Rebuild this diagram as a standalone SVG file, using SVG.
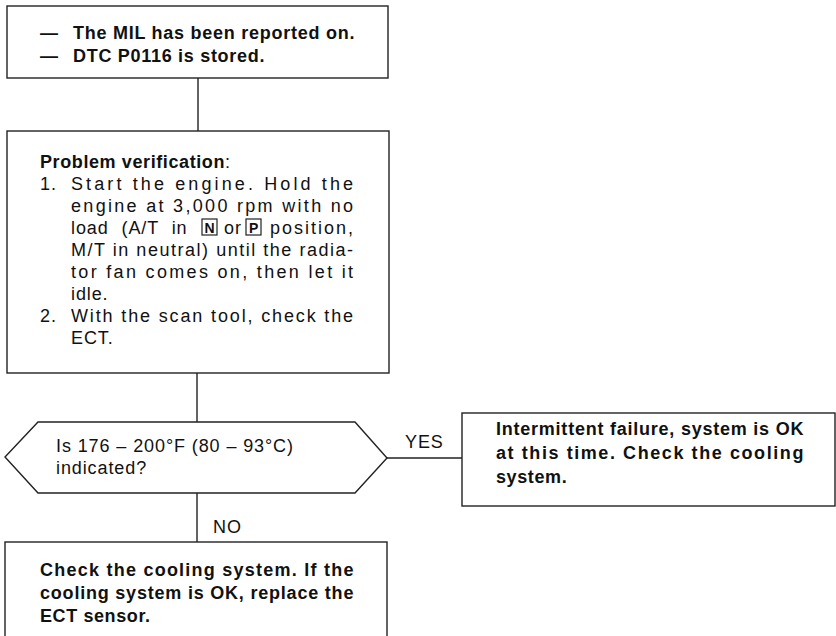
<svg xmlns="http://www.w3.org/2000/svg" width="836" height="636" viewBox="0 0 836 636">
<style>
.box{fill:#fff;stroke:#222;stroke-width:1.4}
.con{stroke:#222;stroke-width:1.4;fill:none}
text{font-family:"Liberation Sans",Arial,Helvetica,sans-serif;font-size:18px;fill:#111;letter-spacing:0.9px}
.b{font-weight:bold;letter-spacing:0.6px}
.k{fill:none;stroke:#222;stroke-width:1.2}
.kl{font-weight:bold;font-size:14px;letter-spacing:0}
</style>
<rect width="836" height="636" fill="#fff"/>
<g id="connectors">
<line class="con" x1="198" y1="78" x2="198" y2="131"/>
<line class="con" x1="197" y1="373" x2="197" y2="422"/>
<line class="con" x1="387" y1="458" x2="462" y2="458"/>
<line class="con" x1="197" y1="493" x2="197" y2="542"/>
<text x="405" y="448">YES</text>
<text x="213" y="533">NO</text>
</g>
<g id="start">
<rect class="box" x="7" y="6" width="381" height="72"/>
<text class="b" x="40" y="39">—</text>
<text class="b" x="73" y="39" textLength="282" lengthAdjust="spacing">The MIL has been reported on.</text>
<text class="b" x="40" y="62">—</text>
<text class="b" x="73" y="62" textLength="192" lengthAdjust="spacing">DTC P0116 is stored.</text>
</g>
<g id="verify">
<rect class="box" x="7" y="131" width="382" height="242"/>
<text x="40" y="168"><tspan class="b">Problem verification</tspan>:</text>
<text x="40" y="190">1.</text>
<text x="71" y="190" textLength="283" lengthAdjust="spacing">Start the engine. Hold the</text>
<text x="71" y="212" textLength="283" lengthAdjust="spacing">engine at 3,000 rpm with no</text>
<text x="71" y="234" style="word-spacing:7px">load (A/T in</text>
<rect class="k" x="202" y="219" width="15" height="16"/>
<text class="kl" x="204.5" y="233">N</text>
<text x="224" y="234">or</text>
<rect class="k" x="246" y="219" width="15" height="16"/>
<text class="kl" x="249" y="233">P</text>
<text x="270" y="234" textLength="84" lengthAdjust="spacing">position,</text>
<text x="71" y="256" textLength="283" lengthAdjust="spacing">M/T in neutral) until the radia-</text>
<text x="71" y="278" textLength="283" lengthAdjust="spacing">tor fan comes on, then let it</text>
<text x="71" y="300">idle.</text>
<text x="40" y="322">2.</text>
<text x="71" y="322" textLength="283" lengthAdjust="spacing">With the scan tool, check the</text>
<text x="71" y="344">ECT.</text>
</g>
<g id="decision">
<polygon class="box" points="38,422 355,422 387,458 355,493 38,493 5,457"/>
<text x="56" y="452">Is 176 – 200°F (80 – 93°C)</text>
<text x="56" y="474">indicated?</text>
</g>
<g id="yes-result">
<rect class="box" x="462" y="413" width="373" height="93"/>
<text class="b" x="496" y="435" textLength="308" lengthAdjust="spacing">Intermittent failure, system is OK</text>
<text class="b" x="496" y="459" textLength="308" lengthAdjust="spacing">at this time. Check the cooling</text>
<text class="b" x="496" y="483">system.</text>
</g>
<g id="no-result">
<rect class="box" x="5" y="542" width="382" height="100"/>
<text class="b" x="40" y="576" textLength="314" lengthAdjust="spacing">Check the cooling system. If the</text>
<text class="b" x="40" y="599" textLength="314" lengthAdjust="spacing">cooling system is OK, replace the</text>
<text class="b" x="40" y="622">ECT sensor.</text>
</g>
</svg>
